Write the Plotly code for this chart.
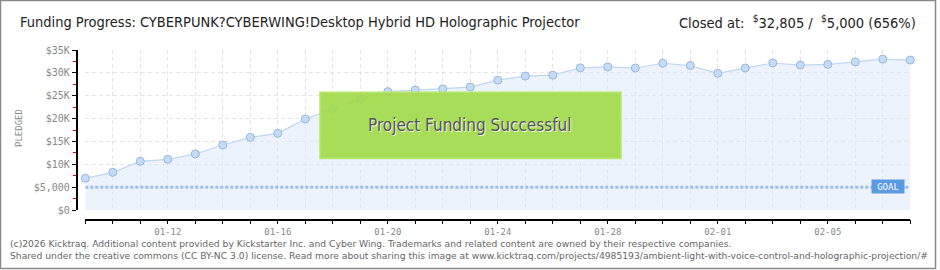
import plotly.graph_objects as go
import pandas as pd

W, H = 940, 270

dates = pd.date_range("2026-01-09", "2026-02-08", freq="D")
pledged = [6930, 8240, 10650, 11090, 12250, 14220, 15900, 16770, 19900, 22100,
           24300, 25900, 26250, 26500, 26900, 28400, 29300, 29500, 31100, 31300,
           31060, 32100, 31600, 29900, 31060, 32160, 31700, 31850, 32400, 33000, 32805]
goal = 5000
y_tickvals = [0, 5000, 10000, 15000, 20000, 25000, 30000, 35000]
y_ticktext = ["$0", "$5,000", "$10K", "$15K", "$20K", "$25K", "$30K", "$35K"]

# pixel layout helpers (paper coords)
def px(x): return x / W
def py(y): return 1 - y / H

x0, x1 = 85.3, 910.3
y_top, y_bot = 50, 210

fig = go.Figure()

fig.add_trace(go.Scatter(
    x=dates, y=pledged, mode="lines+markers",
    line=dict(color="#bcd6f3", width=1.2),
    fill="tozeroy", fillcolor="rgba(220,234,250,0.55)",
    marker=dict(size=8, color="#c4dcf6", line=dict(color="#98b6dc", width=1)),
    hoverinfo="skip", showlegend=False, cliponaxis=False,
))

fig.add_trace(go.Scatter(
    x=[dates[0], dates[-1]], y=[goal, goal], mode="lines",
    line=dict(color="#9cc0ea", width=3, dash="3px,2px"),
    hoverinfo="skip", showlegend=False,
))

font_t = "DejaVu Sans Condensed, Liberation Sans Narrow, sans-serif"

fig.update_layout(
    template="none",
    width=W, height=H, autosize=False,
    margin=dict(l=0, r=0, t=0, b=0, pad=0, autoexpand=False),
    paper_bgcolor="white", plot_bgcolor="white",
    showlegend=False,
    xaxis=dict(
        domain=[px(x0), px(x1)], type="date", automargin=False,
        range=[dates[0], dates[-1]],
        tickformat="%m-%d", tick0="2026-01-12", dtick=4 * 86400000,
        ticks="outside", ticklen=4, tickcolor="black", tickwidth=1,
        showgrid=True, gridcolor="#e4e4e4", griddash="4px,3px", gridwidth=1,
        minor=dict(dtick=86400000, ticks="outside", ticklen=4, tickcolor="black",
                   showgrid=True, gridcolor="#e4e4e4", griddash="4px,3px"),
        showline=True, linecolor="black", linewidth=1.5,
        anchor="free", position=py(219.5),
        tickfont=dict(family="DejaVu Sans Mono, monospace", size=9, color="#888"),
        zeroline=False,
    ),
    yaxis=dict(
        domain=[py(y_bot), py(y_top)], range=[0, 35000], automargin=False,
        tickvals=y_tickvals, ticktext=y_ticktext,
        ticks="outside", ticklen=4, tickcolor="black",
        showgrid=True, gridcolor="#e4e4e4", griddash="4px,3px",
        minor=dict(dtick=2500, ticks="outside", ticklen=3, tickcolor="#e00000", showgrid=False),
        showline=True, linecolor="black", linewidth=1.5,
        anchor="free", position=px(76.5),
        tickfont=dict(family="DejaVu Sans Mono, monospace", size=10, color="#888"),
        zeroline=False,
    ),
    shapes=[
        dict(type="rect", xref="paper", yref="paper", x0=px(0.5), x1=px(935.5), y0=py(268.5), y1=py(0.5),
             line=dict(color="#8a8a8a", width=1.5), fillcolor="rgba(0,0,0,0)", layer="below"),
        dict(type="rect", xref="paper", yref="paper", x0=px(320), x1=px(621), y0=py(158.5), y1=py(92.3),
             line=dict(color="#b6e66a", width=1.5), fillcolor="rgba(162,218,78,0.93)", layer="above"),
    ],
    annotations=[
        dict(text="Funding Progress: CYBERPUNK?CYBERWING!Desktop Hybrid HD Holographic Projector",
             xref="paper", yref="paper", x=px(18), y=py(22), xanchor="left", yanchor="middle",
             showarrow=False, font=dict(family=font_t, size=14.5, color="#222")),
        dict(text="Closed at:  <sup>$</sup>32,805 /  <sup>$</sup>5,000 (656%)",
             xref="paper", yref="paper", x=px(918), y=py(22), xanchor="right", yanchor="middle",
             showarrow=False, font=dict(family=font_t, size=14.5, color="#222")),
        dict(text="PLEDGED", textangle=-90,
             xref="paper", yref="paper", x=px(19), y=py(128), xanchor="center", yanchor="middle",
             showarrow=False, font=dict(family="DejaVu Sans Mono, monospace", size=9, color="#888")),
        dict(text="Project Funding Successful",
             xref="paper", yref="paper", x=px(471), y=py(126), xanchor="center", yanchor="middle",
             showarrow=False, font=dict(family=font_t, size=17, color="#f4f4f4")),
        dict(text="Project Funding Successful",
             xref="paper", yref="paper", x=px(470), y=py(125), xanchor="center", yanchor="middle",
             showarrow=False, font=dict(family=font_t, size=17, color="#555")),
        dict(text="GOAL", xref="paper", yref="paper", x=px(888), y=py(186.5),
             xanchor="center", yanchor="middle", showarrow=False,
             font=dict(family="DejaVu Sans Mono, monospace", size=9, color="white"),
             bgcolor="#5a9ae0", borderpad=1, width=30, height=11),
        dict(text="(c)2026 Kicktraq. Additional content provided by Kickstarter Inc. and Cyber Wing. Trademarks and related content are owned by their respective companies.",
             xref="paper", yref="paper", x=px(8), y=py(243), xanchor="left", yanchor="middle",
             showarrow=False, font=dict(family="DejaVu Sans, sans-serif", size=9.2, color="#666")),
        dict(text="Shared under the creative commons (CC BY-NC 3.0) license. Read more about sharing this image at www.kicktraq.com/projects/4985193/ambient-light-with-voice-control-and-holographic-projection/#",
             xref="paper", yref="paper", x=px(8), y=py(255), xanchor="left", yanchor="middle",
             showarrow=False, font=dict(family="DejaVu Sans, sans-serif", size=9.2, color="#666")),
    ],
)

fig.write_html("out.html")
